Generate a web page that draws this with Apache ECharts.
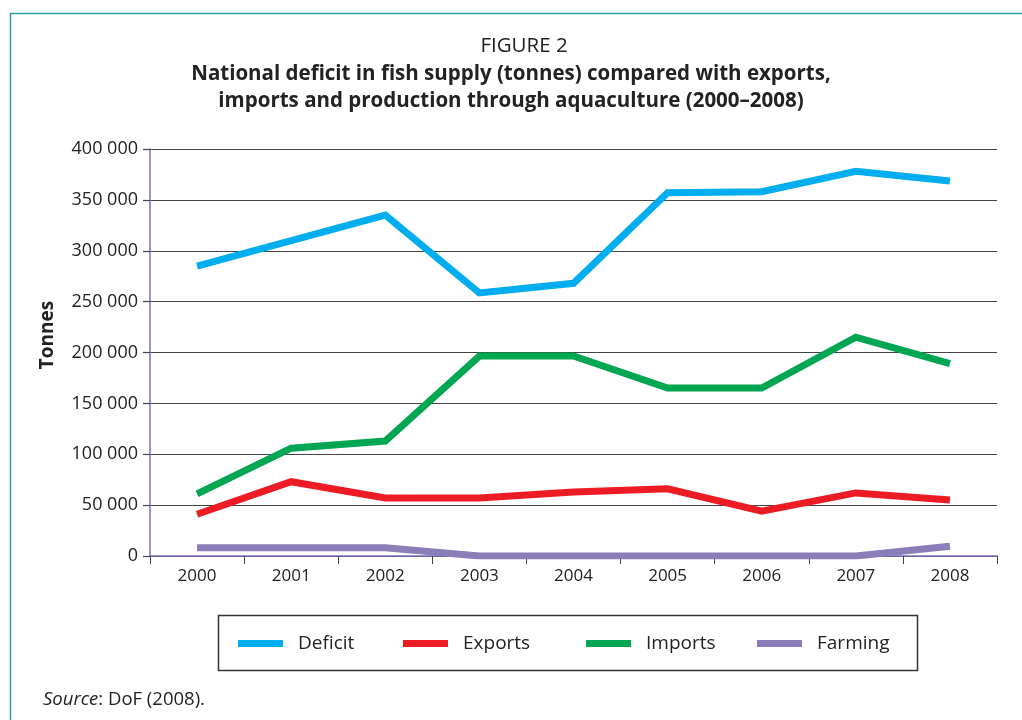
<!DOCTYPE html>
<html>
<head>
<meta charset="utf-8">
<script src="https://cdn.jsdelivr.net/npm/echarts@6/dist/echarts.min.js"></script>
<style>
html,body{margin:0;padding:0;background:#fff;}
#chart{width:1022px;height:720px;}
</style>
</head>
<body>
<div id="chart"></div>
<script>
const years = ['2000','2001','2002','2003','2004','2005','2006','2007','2008'];
const deficit = [285000, 310000, 335000, 258500, 268000, 357000, 358000, 378000, 368500];
const exportsData = [41000, 73000, 57000, 57000, 63000, 66000, 44000, 62000, 55000];
const importsData = [61000, 106000, 113000, 196500, 196500, 165000, 165000, 215000, 189000];
const farming = [8000, 8000, 8000, 0, 0, 0, 0, 0, 9500];
const seriesNames = ['Deficit','Exports','Imports','Farming'];
const colors = ['#00AEEF','#ED1C24','#00A651','#8A7DB8'];
const yTicks = {min:0, max:400000, interval:50000};

const FONT = 'Open Sans';
const chart = echarts.init(document.getElementById('chart'), null, {renderer:'canvas'});
const dataSets = [deficit, exportsData, importsData, farming];
const legendLefts = [238, 403, 586, 757];

chart.setOption({
  animation:false,
  backgroundColor:'#fff',
  textStyle:{fontFamily:FONT},
  title:[
    {text:'FIGURE 2', left:519, textAlign:'center', top:31,
     textStyle:{fontFamily:FONT, fontWeight:'normal', fontSize:20.5, color:'#222'}},
    {text:'National deficit in fish supply (tonnes) compared with exports,\nimports and production through aquaculture (2000\u20132008)',
     left:506, textAlign:'center', top:56,
     textStyle:{fontFamily:FONT, fontWeight:'bold', fontSize:20.5, lineHeight:27, color:'#222'}},
    {text:'{i|Source}: DoF (2008).', left:38, top:685,
     textStyle:{fontFamily:FONT, fontWeight:'normal', fontSize:18.5, color:'#222',
       rich:{i:{fontStyle:'italic', fontFamily:FONT, fontSize:18.5, color:'#222'}}}}
  ],
  graphic:[
    {type:'rect', shape:{x:10.5, y:13.5, width:1030, height:720}, style:{fill:'none', stroke:'#2E9C98', lineWidth:1.5}, silent:true},
    {type:'rect', shape:{x:218.5, y:615.5, width:699, height:55}, style:{fill:'none', stroke:'#333', lineWidth:1.5}, silent:true},
    {type:'text', x:48, y:335, rotation:Math.PI/2,
     style:{text:'Tonnes', fontFamily:FONT, fontWeight:'bold', fontSize:19, fill:'#222', align:'center', verticalAlign:'middle'}, silent:true}
  ],
  legend: seriesNames.map((n,i)=>({
    data:[n], left:legendLefts[i], top:634, padding:0,
    icon:'rect', itemWidth:45, itemHeight:7, itemGap:0,
    textStyle:{fontFamily:FONT, fontSize:19, color:'#222', padding:[0,0,0,10]}
  })),
  grid:{left:150, right:25, top:149, bottom:164, containLabel:false},
  xAxis:{
    type:'category', data:years, boundaryGap:true,
    axisLine:{lineStyle:{color:'#7A70C0', width:1.5}},
    axisTick:{show:true, length:8, lineStyle:{color:'#444', width:1}, alignWithLabel:false},
    axisLabel:{fontFamily:FONT, fontSize:17, color:'#222', margin:12}
  },
  yAxis:{
    type:'value', min:yTicks.min, max:yTicks.max, interval:yTicks.interval,
    axisLine:{show:true, lineStyle:{color:'#7A70C0', width:1.5}},
    axisTick:{show:true, length:7, lineStyle:{color:'#444', width:1.2}},
    splitLine:{lineStyle:{color:'#444', width:1.2}},
    axisLabel:{fontFamily:FONT, fontSize:18, color:'#222', margin:12,
      formatter:v=>String(v).replace(/\B(?=(\d{3})+(?!\d))/g,' ')}
  },
  series: seriesNames.map((n,i)=>({
    name:n, type:'line', data:dataSets[i], symbol:'none',
    lineStyle:{color:colors[i], width:7, join:'miter'}, itemStyle:{color:colors[i]},
    z: i===3?1:2
  }))
});
</script>
</body>
</html>
